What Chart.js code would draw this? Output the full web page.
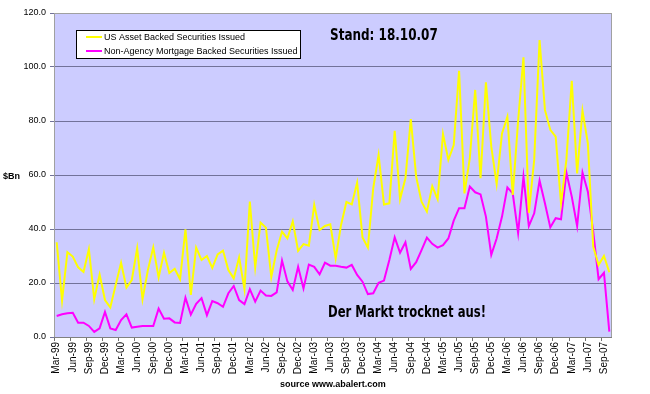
<!DOCTYPE html>
<html>
<head>
<meta charset="utf-8">
<script src="https://cdn.jsdelivr.net/npm/chart.js@4.4.0/dist/chart.umd.min.js"></script>
<style>
  html, body { margin: 0; padding: 0; background: #fff; }
  canvas { display: block; }
</style>
</head>
<body>
<canvas id="absChart" width="650" height="394"></canvas>
<script>
// Monthly issuance, Mar-99 .. Oct-07 ($Bn)
const absIssued = [
  35.1, 13.5, 31.4, 29.8, 25.8, 24.1, 32.5, 14.0, 23.1, 13.7, 11.0, 19.3,
  27.5, 18.3, 21.1, 32.8, 14.0, 24.8, 33.2, 22.1, 31.2, 23.7, 25.3, 21.4,
  39.9, 15.6, 33.1, 28.5, 30.0, 25.6, 30.6, 32.0, 24.8, 21.7, 29.5, 17.7,
  50.2, 25.8, 42.4, 40.5, 22.2, 32.0, 39.0, 36.5, 42.8, 31.9, 34.4, 33.8,
  48.9, 39.6, 41.1, 41.7, 29.1, 41.5, 50.0, 49.1, 57.2, 36.9, 33.1, 55.1,
  67.4, 49.1, 49.5, 76.4, 51.0, 58.8, 80.7, 59.4, 50.1, 46.4, 55.9, 51.0,
  75.2, 65.6, 71.1, 98.6, 53.2, 66.2, 91.5, 58.8, 94.3, 70.5, 56.7, 75.4,
  81.6, 52.6, 80.0, 103.6, 46.0, 65.6, 110.0, 84.1, 76.7, 74.2, 49.5, 65.6,
  94.9, 60.6, 83.8, 71.7, 33.5, 26.7, 30.0, 24.0
];
const nonAgencyMbs = [
  7.8, 8.4, 8.8, 9.0, 5.3, 5.3, 4.1, 1.9, 3.2, 9.3, 3.2, 2.6,
  6.3, 8.4, 3.5, 3.8, 4.1, 4.1, 4.1, 10.5, 6.8, 6.9, 5.4, 5.2,
  14.6, 8.3, 12.3, 14.4, 8.1, 13.3, 12.5, 11.2, 16.2, 18.9, 13.7, 12.2,
  17.7, 13.1, 17.2, 15.4, 15.2, 16.5, 28.3, 20.6, 17.4, 26.0, 18.0, 26.8,
  26.0, 23.2, 27.5, 26.4, 26.4, 26.0, 25.7, 26.7, 23.0, 20.5, 15.9, 16.2,
  20.1, 20.9, 28.5, 36.9, 31.2, 35.1, 25.2, 27.7, 32.2, 36.8, 34.5, 33.1,
  34.0, 36.5, 43.1, 47.7, 47.7, 55.7, 53.6, 52.8, 44.6, 30.4, 36.5, 44.6,
  55.4, 53.2, 38.5, 59.4, 41.1, 45.8, 57.9, 49.5, 40.6, 44.0, 43.6, 60.9,
  52.0, 41.1, 60.9, 53.8, 39.0, 21.4, 23.8, 2.0
];
const seriesNames = ['US Asset Backed Securities Issued', 'Non-Agency Mortgage Backed Securities Issued'];
const yTicks = [0, 20, 40, 60, 80, 100, 120];
const monthNames = ['Jan', 'Feb', 'Mar', 'Apr', 'May', 'Jun', 'Jul', 'Aug', 'Sep', 'Oct', 'Nov', 'Dec'];
const firstMonth = 2, firstYear = 1999;

const categories = [];
for (let k = 0; k < absIssued.length; k++) {
  const m = firstMonth + k;
  const yr = (firstYear + Math.floor(m / 12)) % 100;
  categories.push(monthNames[m % 12] + '-' + String(yr).padStart(2, '0'));
}

const FONT = '"Liberation Sans", Arial, sans-serif';
const gridColor = '#72729a';

const plotDecor = {
  id: 'plotDecor',
  beforeDraw(chart) {
    const { ctx, chartArea: a } = chart;
    ctx.save();
    ctx.fillStyle = '#ffffff';
    ctx.fillRect(0, 0, chart.width, chart.height);
    ctx.fillStyle = '#ccccff';
    ctx.fillRect(a.left, a.top, a.right - a.left, a.bottom - a.top);
    ctx.restore();
  },
  beforeDatasetsDraw(chart) {
    const { ctx, chartArea: a } = chart;
    ctx.save();
    ctx.strokeStyle = '#a0a0a0';
    ctx.lineWidth = 1;
    ctx.strokeRect(a.left + 0.5, a.top + 0.5, a.right - a.left - 1, a.bottom - a.top);
    ctx.strokeStyle = '#808080';
    ctx.beginPath();
    ctx.moveTo(a.left, a.bottom + 0.5);
    ctx.lineTo(a.right, a.bottom + 0.5);
    ctx.stroke();
    ctx.restore();
  },
  afterDatasetsDraw(chart) {
    const { ctx } = chart;
    ctx.save();

    // legend box
    ctx.fillStyle = '#ffffff';
    ctx.fillRect(76, 30, 224, 28);
    ctx.strokeStyle = '#000000';
    ctx.lineWidth = 1;
    ctx.strokeRect(76.5, 30.5, 224, 28);
    ctx.font = '9px ' + FONT;
    ctx.textBaseline = 'middle';
    chart.data.datasets.forEach((ds, i) => {
      const y = 37 + i * 14;
      ctx.strokeStyle = ds.borderColor;
      ctx.lineWidth = 2;
      ctx.beginPath();
      ctx.moveTo(86, y);
      ctx.lineTo(102, y);
      ctx.stroke();
      ctx.fillStyle = '#000000';
      ctx.fillText(ds.label, 104, y + 0.5);
    });

    // y axis unit
    ctx.font = 'bold 9px ' + FONT;
    ctx.textBaseline = 'alphabetic';
    ctx.fillText('$Bn', 3, 179);

    // source line
    ctx.fillText('source www.abalert.com', 280, 387);

    // annotations
    ctx.font = 'bold 12px "DejaVu Sans", sans-serif';
    ctx.save();
    ctx.translate(330, 40);
    ctx.scale(1, 1.3);
    ctx.fillText('Stand: 18.10.07', 0, 0);
    ctx.restore();
    ctx.save();
    ctx.translate(328, 317);
    ctx.scale(0.97, 1.3);
    ctx.fillText('Der Markt trocknet aus!', 0, 0);
    ctx.restore();

    ctx.restore();
  }
};

new Chart(document.getElementById('absChart'), {
  type: 'line',
  data: {
    labels: categories,
    datasets: [{
      label: seriesNames[0],
      data: absIssued,
      borderColor: '#ffff00',
      borderWidth: 2,
      pointRadius: 0,
      tension: 0,
      fill: false
    }, {
      label: seriesNames[1],
      data: nonAgencyMbs,
      borderColor: '#ff00ff',
      borderWidth: 2,
      pointRadius: 0,
      tension: 0,
      fill: false
    }]
  },
  options: {
    responsive: false,
    animation: false,
    devicePixelRatio: 1,
    layout: { padding: { left: 0, right: 38, top: 13, bottom: 0 } },
    plugins: {
      legend: { display: false },
      tooltip: { enabled: false }
    },
    scales: {
      x: {
        type: 'category',
        offset: true,
        border: { display: false },
        grid: {
          display: true,
          drawOnChartArea: false,
          drawTicks: true,
          tickLength: 4,
          offset: true,
          color: ctx => (ctx.index % 3 === 0 ? '#707070' : 'rgba(0,0,0,0)')
        },
        ticks: {
          autoSkip: false,
          maxRotation: 90,
          minRotation: 90,
          padding: 1,
          color: '#000000',
          font: { family: FONT, size: 10 },
          callback: (v, i) => (i % 3 === 0 ? categories[i] : '')
        },
        afterFit: s => { s.height = 57; }
      },
      y: {
        min: yTicks[0],
        max: yTicks[yTicks.length - 1],
        border: { display: false },
        grid: { color: gridColor, tickLength: 4 },
        afterBuildTicks: s => { s.ticks = yTicks.map(v => ({ value: v })); },
        ticks: {
          padding: 4,
          color: '#000000',
          font: { family: FONT, size: 9 },
          callback: v => Number(v).toFixed(1)
        },
        afterFit: s => { s.width = 54; }
      }
    }
  },
  plugins: [plotDecor]
});
</script>
</body>
</html>
